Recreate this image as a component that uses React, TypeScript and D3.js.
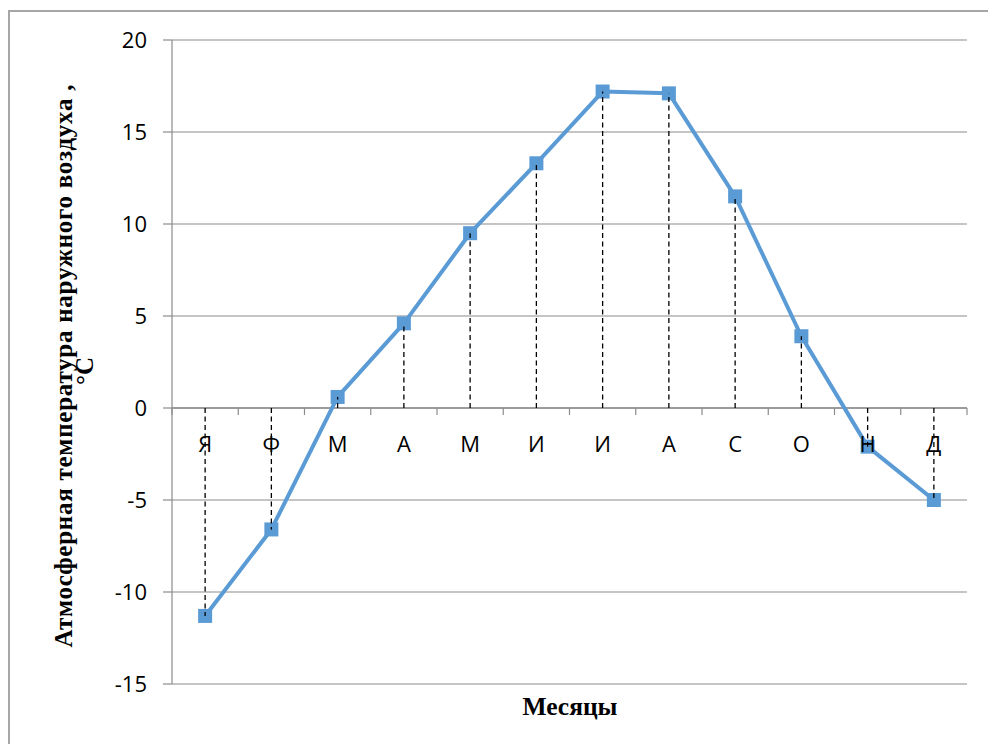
import React from "react";
import * as d3 from "d3";

// Monthly mean outdoor air temperature, °C
const months = ["Я", "Ф", "М", "А", "М", "И", "И", "А", "С", "О", "Н", "Д"];
const temperatures = [-11.3, -6.6, 0.6, 4.6, 9.5, 13.3, 17.2, 17.1, 11.5, 3.9, -2.1, -5.0];
const yTicks = [-15, -10, -5, 0, 5, 10, 15, 20];
const yTitleLine1 = "Атмосферная температура наружного воздуха ,";
const yTitleLine2 = "°С";
const xTitle = "Месяцы";

const W = 988;
const H = 744;
const plot = { left: 172, right: 967, top: 40, bottom: 684 };

export default function App() {
  const x = d3
    .scaleBand<string>()
    .domain(months.map((_, i) => String(i)))
    .range([plot.left, plot.right])
    .paddingInner(0)
    .paddingOuter(0);
  const y = d3.scaleLinear().domain([-15, 20]).range([plot.bottom, plot.top]);
  const cx = (i: number) => (x(String(i)) as number) + x.bandwidth() / 2;

  const line = d3
    .line<number>()
    .x((_, i) => cx(i))
    .y((d) => y(d));

  const y0 = y(0);
  const gridColor = "#8c8c8c";
  const blue = "#5B9BD5";
  const sans = "'Open Sans', sans-serif";
  const serif = "'Liberation Serif', 'Times New Roman', serif";
  const boundaries = d3.range(months.length + 1).map((i) => plot.left + i * x.bandwidth());
  const ms = 14;

  return (
    <svg
      width={W}
      height={H}
      style={{ position: "absolute", left: 0, top: 0, background: "#fff" }}
    >
      {/* chart frame */}
      <rect x={9} y={11} width={W + 20} height={H + 20} fill="#fff" stroke="#a6a6a6" strokeWidth={2} />

      {/* horizontal gridlines */}
      {yTicks.map((t) => (
        <g key={t}>
          <line x1={plot.left} x2={plot.right} y1={y(t)} y2={y(t)} stroke={gridColor} strokeWidth={1.2} />
          <line x1={plot.left - 9} x2={plot.left} y1={y(t)} y2={y(t)} stroke={gridColor} strokeWidth={1.2} />
          <text
            x={147}
            y={y(t) + 8}
            textAnchor="end"
            fontFamily={sans}
            fontSize={22}
            fill="#000"
          >
            {t}
          </text>
        </g>
      ))}

      {/* value axis */}
      <line x1={plot.left} x2={plot.left} y1={plot.top} y2={plot.bottom} stroke={gridColor} strokeWidth={1.2} />

      {/* category axis through zero */}
      <line x1={plot.left} x2={plot.right} y1={y0} y2={y0} stroke={gridColor} strokeWidth={1.5} />
      {boundaries.map((bx, i) => (
        <line key={i} x1={bx} x2={bx} y1={y0} y2={y0 + 7} stroke={gridColor} strokeWidth={1.2} />
      ))}

      {/* temperature series */}
      <path d={line(temperatures) ?? ""} fill="none" stroke={blue} strokeWidth={4} strokeLinejoin="round" />
      {temperatures.map((v, i) => (
        <rect key={i} x={cx(i) - ms / 2} y={y(v) - ms / 2} width={ms} height={ms} fill={blue} />
      ))}

      {/* drop lines to the axis */}
      {temperatures.map((v, i) => (
        <line
          key={i}
          x1={cx(i)}
          x2={cx(i)}
          y1={y0}
          y2={y(v)}
          stroke="#000"
          strokeWidth={1.3}
          strokeDasharray="5,3.5"
        />
      ))}

      {/* month labels */}
      {months.map((m, i) => (
        <text
          key={i}
          x={cx(i)}
          y={y0 + 44}
          textAnchor="middle"
          fontFamily={sans}
          fontSize={22}
          fill="#000"
        >
          {m}
        </text>
      ))}

      {/* axis titles */}
      <text
        transform={`translate(72, 366) rotate(-90)`}
        textAnchor="middle"
        fontFamily={serif}
        fontWeight="bold"
        fontSize={25}
        fill="#000"
        textLength={563}
        lengthAdjust="spacing"
      >
        {yTitleLine1}
      </text>
      <text
        transform={`translate(93, 371) rotate(-90)`}
        textAnchor="middle"
        fontFamily={serif}
        fontWeight="bold"
        fontSize={25}
        fill="#000"
      >
        {yTitleLine2}
      </text>
      <text
        x={570}
        y={715}
        textAnchor="middle"
        fontFamily={serif}
        fontWeight="bold"
        fontSize={25}
        fill="#000"
        textLength={95}
        lengthAdjust="spacingAndGlyphs"
      >
        {xTitle}
      </text>
    </svg>
  );
}
